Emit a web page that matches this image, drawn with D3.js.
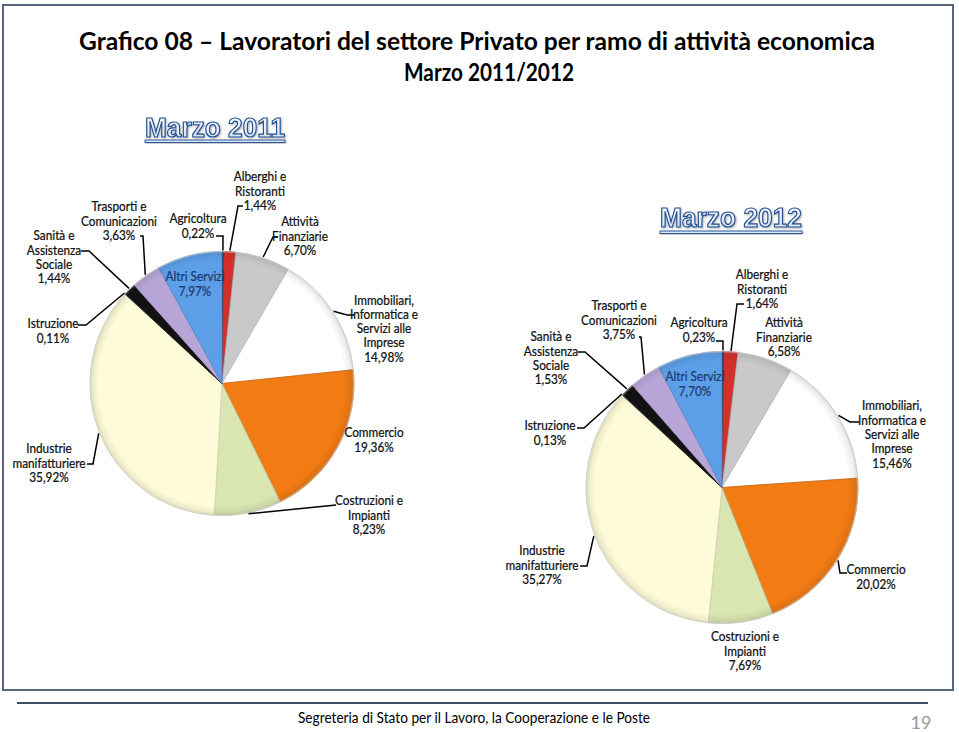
<!DOCTYPE html>
<html>
<head>
<meta charset="utf-8">
<script src="https://cdn.jsdelivr.net/npm/d3@7/dist/d3.min.js"></script>
<style>
  html, body { margin: 0; padding: 0; background: #ffffff; }
  svg { display: block; }
</style>
</head>
<body>
<svg id="chart" width="959" height="732"></svg>
<script>
// ---------------- DATA ----------------
const categories = [
  "Agricoltura", "Alberghi e Ristoranti", "Attività Finanziarie",
  "Immobiliari, Informatica e Servizi alle Imprese", "Commercio",
  "Costruzioni e Impianti", "Industrie manifatturiere", "Istruzione",
  "Sanità e Assistenza Sociale", "Trasporti e Comunicazioni", "Altri Servizi"
];
const labelLines = [
  ["Agricoltura"], ["Alberghi e", "Ristoranti"], ["Attività", "Finanziarie"],
  ["Immobiliari,", "Informatica e", "Servizi alle", "Imprese"], ["Commercio"],
  ["Costruzioni e", "Impianti"], ["Industrie", "manifatturiere"], ["Istruzione"],
  ["Sanità e", "Assistenza", "Sociale"], ["Trasporti e", "Comunicazioni"], ["Altri Servizi"]
];
const values2011 = [0.22, 1.44, 6.70, 14.98, 19.36, 8.23, 35.92, 0.11, 1.44, 3.63, 7.97];
const values2012 = [0.23, 1.64, 6.58, 15.46, 20.02, 7.69, 35.27, 0.13, 1.53, 3.75, 7.70];
const pieTitles = ["Marzo 2011", "Marzo 2012"];
const chartTitle = ["Grafico 08 \u2013 Lavoratori del settore Privato per ramo di attività economica", "Marzo 2011/2012"];
const footerText = "Segreteria di Stato per il Lavoro, la Cooperazione e le Poste";
const pageNumber = "19";

// ---------------- STYLE / LAYOUT ----------------
const colors = ["#1c3358", "#d3302b", "#c9c9c9", "#ffffff", "#f27b13", "#d9e6b1",
                "#fefcd8", "#3a3a3a", "#121212", "#b8a5d8", "#5c9fe8"];
const labelFont = "Lato, 'Open Sans', sans-serif";
const LH = 14.3;
const LSIZE = 13.4;
const LSCALE = 0.88;

const pies = [
  { values: values2011, cx: 222, cy: 383.5, r: 132,
    title: { x: 215, y: 137, len: 140, uy: 140 },
    labels: [
      { x: 198, y: 219, pts: [[216, 236], [223, 236]] },
      { x: 260, y: 177, pts: [[243, 206], [238, 206]] },
      { x: 300, y: 222, pts: [[278, 237], [273, 237]] },
      { x: 384, y: 300, pts: [[355, 315], [347, 315]] },
      { x: 374, y: 433, pts: null },
      { x: 369, y: 501, pts: [[336, 505]] },
      { x: 49,  y: 449, pts: [[87, 464], [93, 464]] },
      { x: 53,  y: 324, pts: [[78, 325], [86, 325]] },
      { x: 54,  y: 236, pts: [[81, 251], [89, 251]] },
      { x: 119, y: 207, pts: [[140, 236], [143, 236]] },
      { x: 195, y: 277, pts: null, inside: true }
    ] },
  { values: values2012, cx: 722, cy: 487.5, r: 136,
    title: { x: 731, y: 227, len: 142, uy: 231 },
    labels: [
      { x: 699, y: 323, pts: [[716, 341], [723, 341]] },
      { x: 762, y: 275, pts: [[744, 304], [737, 304]] },
      { x: 784, y: 323, pts: null },
      { x: 892, y: 406, pts: [[859, 422], [850, 422]] },
      { x: 876, y: 570, pts: [[847, 573], [840, 573]] },
      { x: 745, y: 637, pts: null },
      { x: 542, y: 551, pts: [[580, 566], [587, 566]] },
      { x: 550, y: 426, pts: [[577, 428], [584, 428]] },
      { x: 551, y: 337, pts: [[578, 352], [585, 352]] },
      { x: 619, y: 306, pts: [[639, 337], [641, 337]] },
      { x: 695, y: 377, pts: null, inside: true }
    ] }
];

const fmt = v => d3.format(".2f")(v).replace(".", ",") + "%";

// ---------------- DRAW ----------------
const svg = d3.select("#chart");
const defs = svg.append("defs");

const wordGrad = defs.append("linearGradient").attr("id", "wordFill")
  .attr("x1", 0).attr("y1", 0).attr("x2", 0).attr("y2", 1);
wordGrad.append("stop").attr("offset", "0%").attr("stop-color", "#ffffff");
wordGrad.append("stop").attr("offset", "100%").attr("stop-color", "#cfe0f4");
const shadow = defs.append("filter").attr("id", "wshadow")
  .attr("x", "-10%").attr("y", "-20%").attr("width", "130%").attr("height", "160%");
shadow.append("feGaussianBlur").attr("in", "SourceAlpha").attr("stdDeviation", 1).attr("result", "b");
shadow.append("feOffset").attr("in", "b").attr("dx", 1.2).attr("dy", 1.2).attr("result", "o");
shadow.append("feComponentTransfer").attr("in", "o").attr("result", "o2")
  .append("feFuncA").attr("type", "linear").attr("slope", 0.3);
const fm = shadow.append("feMerge");
fm.append("feMergeNode").attr("in", "o2");
fm.append("feMergeNode").attr("in", "SourceGraphic");

// frame
svg.append("rect").attr("x", 3).attr("y", 5).attr("width", 950).attr("height", 685)
  .attr("fill", "none").attr("stroke", "#56677f").attr("stroke-width", 2);

// title
svg.append("text").attr("x", 477).attr("y", 50).attr("text-anchor", "middle")
  .attr("font-family", "Lato, sans-serif").attr("font-weight", "bold").attr("font-size", 25)
  .attr("textLength", 796).attr("lengthAdjust", "spacingAndGlyphs").attr("fill", "#000")
  .text(chartTitle[0]);
svg.append("text").attr("x", 489).attr("y", 81).attr("text-anchor", "middle")
  .attr("font-family", "Lato, sans-serif").attr("font-weight", "bold").attr("font-size", 25)
  .attr("textLength", 170).attr("lengthAdjust", "spacingAndGlyphs").attr("fill", "#000")
  .text(chartTitle[1]);

const pieGen = d3.pie().sort(null).value(d => d).startAngle(0).endAngle(2 * Math.PI);

pies.forEach((P, pi) => {
  const arcs = pieGen(P.values);
  const arc = d3.arc().innerRadius(0).outerRadius(P.r);
  const rim = d3.arc().innerRadius(P.r + 1).outerRadius(P.r + 1);

  const gid = "bevel" + pi;
  const g2 = defs.append("radialGradient").attr("id", gid)
    .attr("gradientUnits", "userSpaceOnUse").attr("cx", 0).attr("cy", 0).attr("r", P.r);
  g2.append("stop").attr("offset", "0%").attr("stop-color", "#000").attr("stop-opacity", 0);
  g2.append("stop").attr("offset", "93%").attr("stop-color", "#000").attr("stop-opacity", 0);
  g2.append("stop").attr("offset", "98%").attr("stop-color", "#000").attr("stop-opacity", 0.07);
  g2.append("stop").attr("offset", "100%").attr("stop-color", "#fff").attr("stop-opacity", 0.35);

  const g = svg.append("g").attr("transform", `translate(${P.cx},${P.cy})`);
  g.selectAll("path.slice").data(arcs).join("path").attr("class", "slice")
    .attr("d", arc)
    .attr("fill", (d, i) => colors[i])
    .attr("stroke", (d, i) => i === 3 ? "#bdbdbd" : d3.color(colors[i]).darker(0.5))
    .attr("stroke-width", 0.8);
  g.selectAll("path.bev").data(arcs).join("path").attr("class", "bev")
    .attr("d", arc).attr("fill", `url(#${gid})`);
  g.append("circle").attr("r", P.r).attr("fill", "none")
    .attr("stroke", "#c4c4c4").attr("stroke-width", 0.6);

  // leader lines
  arcs.forEach((d, i) => {
    const L = P.labels[i];
    if (!L.pts) return;
    const c = rim.centroid(d);
    const pts = L.pts.concat([[P.cx + c[0], P.cy + c[1]]]);
    svg.append("path").attr("d", d3.line()(pts))
      .attr("fill", "none").attr("stroke", "#000").attr("stroke-width", 1.5);
  });

  // labels
  arcs.forEach((d, i) => {
    const L = P.labels[i];
    const lines = labelLines[i].concat([fmt(P.values[i])]);
    const col = L.inside ? "#1f3a68" : "#111111";
    const t = svg.append("g").attr("transform", `translate(${L.x},0) scale(${LSCALE},1)`)
      .append("text").attr("text-anchor", "middle")
      .attr("font-family", labelFont).attr("font-size", LSIZE)
      .attr("fill", col).attr("stroke", col).attr("stroke-width", 0.25);
    lines.forEach((s, k) => {
      t.append("tspan").attr("x", 0).attr("y", L.y + k * LH + 4.5).text(s);
    });
  });

  // word-art title
  const T = P.title;
  svg.append("rect").attr("x", T.x - T.len / 2).attr("y", T.uy).attr("width", T.len).attr("height", 2.5)
    .attr("fill", "#dce8f6").attr("stroke", "#2a5796").attr("stroke-width", 1)
    .attr("filter", "url(#wshadow)");
  svg.append("text").attr("x", T.x).attr("y", T.y).attr("text-anchor", "middle")
    .attr("font-family", "'Liberation Sans', Arial, sans-serif").attr("font-weight", "bold")
    .attr("font-size", 27).attr("textLength", T.len).attr("lengthAdjust", "spacingAndGlyphs")
    .attr("fill", "url(#wordFill)").attr("stroke", "#25508f").attr("stroke-width", 1.2)
    .attr("filter", "url(#wshadow)")
    .text(pieTitles[pi]);
});

// footer
svg.append("line").attr("x1", 17).attr("x2", 928).attr("y1", 703).attr("y2", 703)
  .attr("stroke", "#3d4f66").attr("stroke-width", 2);
svg.append("text").attr("x", 474).attr("y", 723).attr("text-anchor", "middle")
  .attr("font-family", "Lato, sans-serif").attr("font-size", 16)
  .attr("textLength", 352).attr("lengthAdjust", "spacingAndGlyphs").attr("fill", "#000")
  .text(footerText);
svg.append("text").attr("x", 921).attr("y", 729).attr("text-anchor", "middle")
  .attr("font-family", "Lato, sans-serif").attr("font-size", 18).attr("fill", "#9a9a9a")
  .text(pageNumber);
</script>
</body>
</html>
